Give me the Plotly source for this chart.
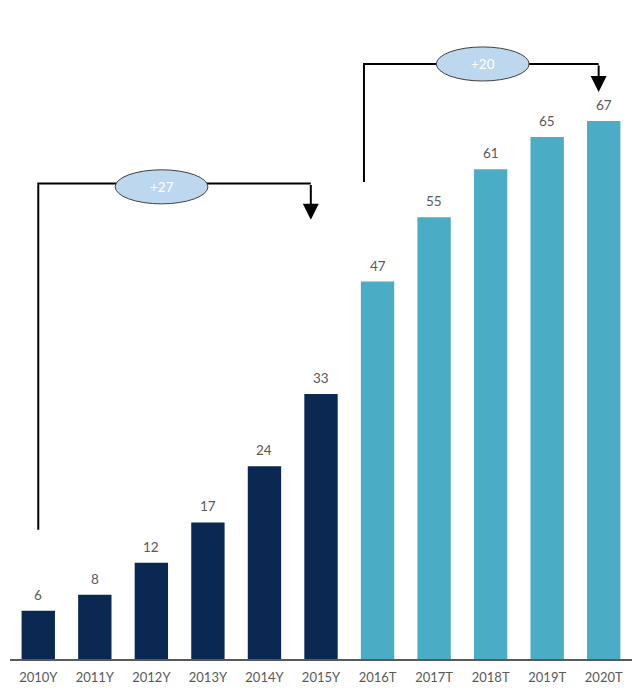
import plotly.graph_objects as go

categories = ["2010Y", "2011Y", "2012Y", "2013Y", "2014Y", "2015Y",
              "2016T", "2017T", "2018T", "2019T", "2020T"]
values = [6, 8, 12, 17, 24, 33, 47, 55, 61, 65, 67]
actual_color = "#0B2852"
forecast_color = "#4BACC6"
colors = [actual_color if c.endswith("Y") else forecast_color for c in categories]

# bracket geometry (category index / value units)
left_bracket = dict(x0=0, x1=4.82, y_start=16.1, y_top=59.2, y_tip=54.7,
                    ex=2.18, ey=58.8, label="+%d" % (values[5] - values[0]))
right_bracket = dict(x0=5.76, x1=9.91, y_start=59.4, y_top=74.1, y_tip=70.6,
                     ex=7.86, ey=74.1, label="+%d" % (values[10] - values[6]))

FONT = "Lato, 'Open Sans', sans-serif"
GREY = "#595959"

fig = go.Figure()
fig.add_trace(go.Bar(x=list(range(len(categories))), y=values,
                     marker=dict(color=colors, line=dict(width=0)),
                     width=0.59, hoverinfo="skip"))

annotations = []
for i, v in enumerate(values):
    annotations.append(dict(x=i, y=v, text=str(v), showarrow=False,
                            yanchor="bottom", yshift=6,
                            font=dict(family=FONT, size=13.5, color=GREY)))

shapes = []
for b in (left_bracket, right_bracket):
    shapes.append(dict(type="path", xref="x", yref="y",
                       path="M %f %f L %f %f L %f %f" % (b["x0"], b["y_start"], b["x0"], b["y_top"],
                                                          b["x1"], b["y_top"]),
                       line=dict(color="black", width=2)))
    annotations.append(dict(x=b["x1"], y=b["y_tip"], ax=b["x1"], ay=b["y_top"],
                            xref="x", yref="y", axref="x", ayref="y", text="",
                            showarrow=True, arrowhead=2, arrowsize=1.6, arrowwidth=2,
                            arrowcolor="black", standoff=0, startstandoff=0))
    shapes.append(dict(type="circle", xref="x", yref="y",
                       x0=b["ex"] - 0.82, x1=b["ex"] + 0.82,
                       y0=b["ey"] - 2.12, y1=b["ey"] + 2.12,
                       fillcolor="#BDD7EE", line=dict(color="#404040", width=1), layer="above"))
    annotations.append(dict(x=b["ex"], y=b["ey"], text=b["label"], showarrow=False,
                            font=dict(family=FONT, size=13.5, color="white")))

fig.update_layout(
    width=636, height=681,
    margin=dict(l=2, r=12, t=0, b=30),
    paper_bgcolor="white", plot_bgcolor="white",
    showlegend=False,
    bargap=0.41,
    shapes=shapes, annotations=annotations,
    xaxis=dict(tickmode="array", tickvals=list(range(len(categories))), ticktext=categories,
               range=[-0.5, len(categories) - 0.5], showgrid=False, zeroline=False,
               showline=True, linecolor=GREY, linewidth=2, ticks="",
               ticklabelstandoff=5,
               tickfont=dict(family=FONT, size=13, color=GREY), fixedrange=True),
    yaxis=dict(range=[0, 81.07], visible=False, showgrid=False, zeroline=False,
               fixedrange=True),
)

fig.write_html("out.html")
